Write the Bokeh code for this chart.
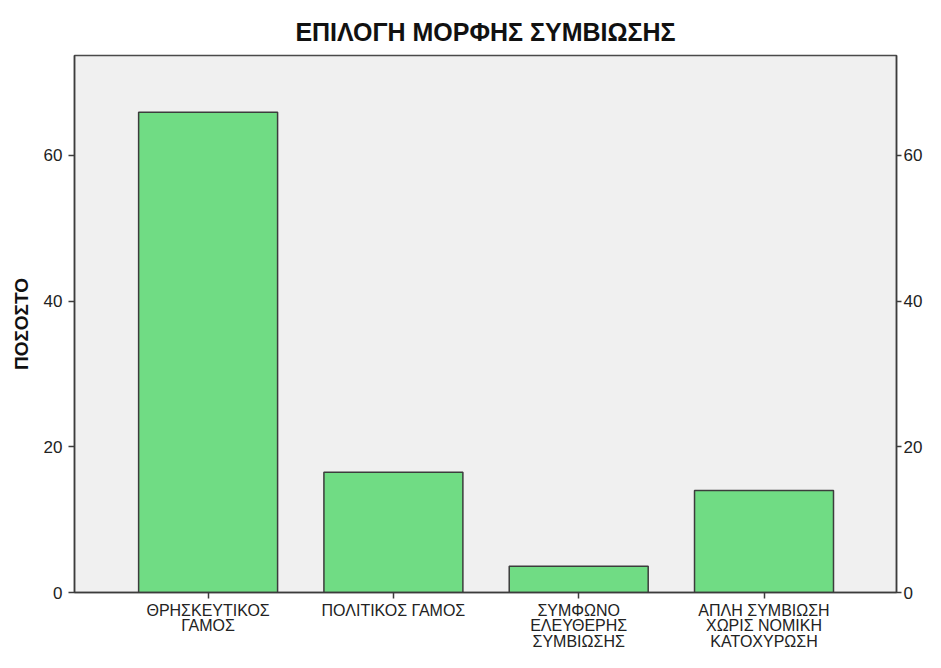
from bokeh.plotting import figure
from bokeh.models import (ColumnDataSource, LinearAxis, FixedTicker, Range1d, Title)
from bokeh.embed import file_html
from bokeh.resources import INLINE

# ---- data ----
categories = ["ΘΡΗΣΚΕΥΤΙΚΟΣ ΓΑΜΟΣ", "ΠΟΛΙΤΙΚΟΣ ΓΑΜΟΣ",
              "ΣΥΜΦΩΝΟ ΕΛΕΥΘΕΡΗΣ ΣΥΜΒΙΩΣΗΣ", "ΑΠΛΗ ΣΥΜΒΙΩΣΗ ΧΩΡΙΣ ΝΟΜΙΚΗ ΚΑΤΟΧΥΡΩΣΗ"]
tick_labels = ["ΘΡΗΣΚΕΥΤΙΚΟΣ\nΓΑΜΟΣ", "ΠΟΛΙΤΙΚΟΣ ΓΑΜΟΣ",
               "ΣΥΜΦΩΝΟ\nΕΛΕΥΘΕΡΗΣ\nΣΥΜΒΙΩΣΗΣ", "ΑΠΛΗ ΣΥΜΒΙΩΣΗ\nΧΩΡΙΣ ΝΟΜΙΚΗ\nΚΑΤΟΧΥΡΩΣΗ"]
percent = [65.9, 16.5, 3.6, 14.0]
y_ticks = [0, 20, 40, 60]
title_text = "ΕΠΙΛΟΓΗ ΜΟΡΦΗΣ ΣΥΜΒΙΩΣΗΣ"
y_label = "ΠΟΣΟΣΤΟ"

positions = list(range(1, len(categories) + 1))
src = ColumnDataSource(dict(x=positions, top=percent, cat=categories))

FONT = "Liberation Sans"
DARK = "#3c3c3c"

p = figure(width=925, height=652, output_backend="svg", toolbar_location=None,
           x_range=Range1d(0.279, 4.715), y_range=Range1d(0, 73.7),
           min_border_left=74, min_border_right=25, min_border_top=55, min_border_bottom=55,
           background_fill_color="#f0f0f0", border_fill_color="white",
           outline_line_color="#4a4a4a", outline_line_width=1.5)
p.title = Title(text=title_text, align="center", text_font=FONT, text_font_size="25px",
                text_font_style="bold", text_color="#111111", standoff=20)

p.vbar(x="x", top="top", bottom=0, width=0.75, source=src,
       fill_color="#70dc84", line_color=DARK, line_width=1.5)

p.xgrid.visible = False
p.ygrid.visible = False

def style_axis(ax):
    ax.axis_line_color = DARK
    ax.axis_line_width = 1.5
    ax.major_tick_line_color = DARK
    ax.major_tick_line_width = 1.5
    ax.major_tick_out = 6
    ax.major_tick_in = 0
    ax.minor_tick_line_color = None
    ax.major_label_text_font = FONT
    ax.major_label_text_font_size = "17px"
    ax.major_label_text_color = "#222222"

# x axis
xa = p.xaxis[0]
style_axis(xa)
xa.ticker = FixedTicker(ticks=positions)
xa.major_label_overrides = {pos: lab for pos, lab in zip(positions, tick_labels)}
xa.major_label_standoff = 3
xa.major_label_text_font_size = "16px"
xa.major_label_text_line_height = 0.92
xa.axis_label_standoff = 0

# left y axis
ya = p.yaxis[0]
style_axis(ya)
ya.ticker = FixedTicker(ticks=y_ticks)
ya.major_label_standoff = 6
ya.axis_label = y_label
ya.axis_label_text_font = FONT
ya.axis_label_text_font_size = "19px"
ya.axis_label_text_font_style = "bold"
ya.axis_label_text_color = "#111111"
ya.axis_label_standoff = 9

# right y axis
ra = LinearAxis(ticker=FixedTicker(ticks=y_ticks))
style_axis(ra)
ra.major_tick_out = 5
ra.major_label_standoff = 2
ra.axis_label_standoff = 0
p.add_layout(ra, "right")

open("out.html", "w").write(file_html(p, INLINE))
